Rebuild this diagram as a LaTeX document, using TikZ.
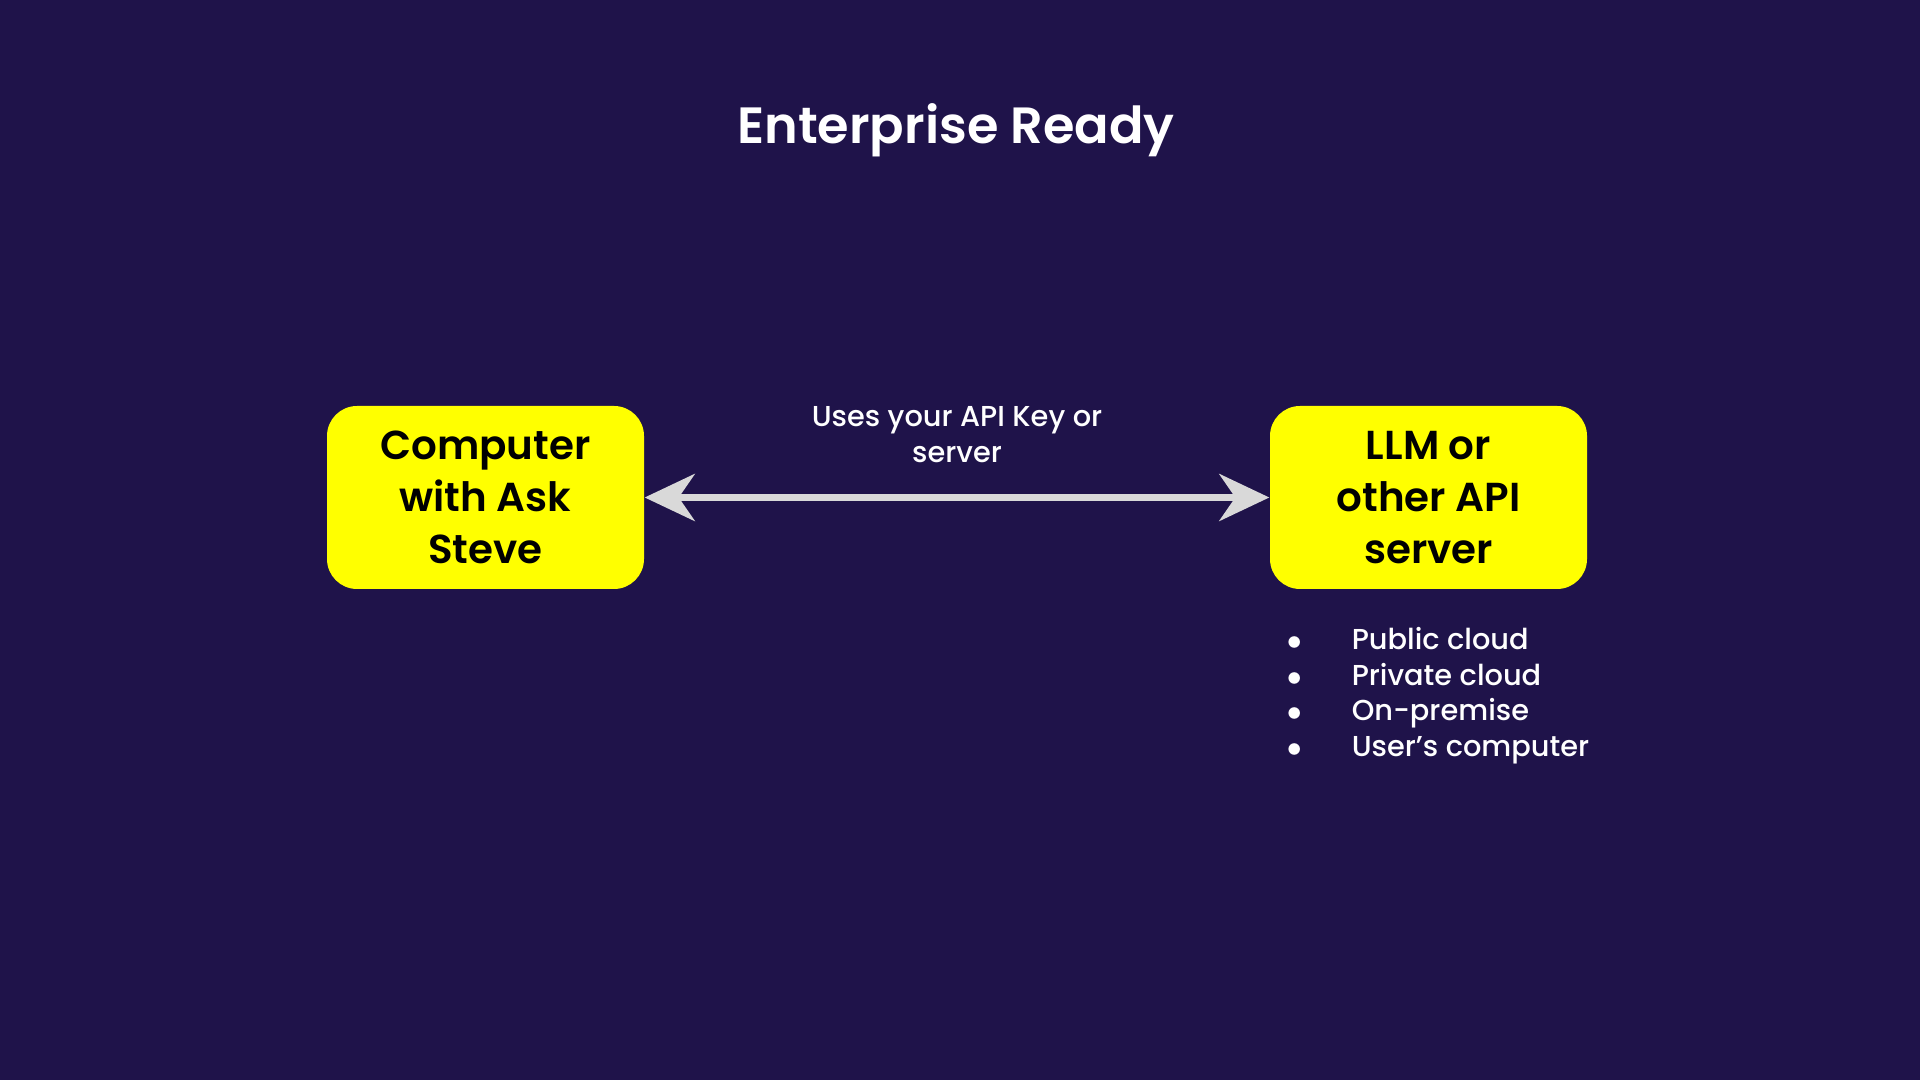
\documentclass[tikz,border=0pt]{standalone}
\usepackage{fontspec}
\setmainfont{Poppins}[BoldFont={Poppins SemiBold}]
\newfontfamily\medfont{Poppins Medium}
\usepackage{tikz}
\usetikzlibrary{arrows.meta,positioning,calc}
\definecolor{bgnavy}{HTML}{1F134A}
\definecolor{boxyellow}{HTML}{FFFF00}
\definecolor{arrgrey}{HTML}{D9D9D9}

\begin{document}
\begin{tikzpicture}[
  node distance=3.5mm,
  box/.style={fill=boxyellow, rounded corners=0.3cm, align=center, font=\fontsize{11.5}{14.8}\selectfont\bfseries, text=black, minimum width=3.17cm, minimum height=1.83cm, inner sep=0pt},
  lbl/.style={text=white, align=center, font=\fontsize{8.2}{10.1}\selectfont\medfont},
  arr/.style={{Stealth[length=5mm, width=4.7mm, inset=1.6mm]}-{Stealth[length=5mm, width=4.7mm, inset=1.6mm]}, line width=2pt, arrgrey}
]
\fill[bgnavy] (0,0) rectangle (19.2,10.8);
\node[text=white, font=\fontsize{14.5}{17}\selectfont\bfseries] (title) at (9.56,9.50) {Enterprise Ready};
\node[box] (comp) at (4.855,5.825) {Computer\\with Ask\\Steve};
\node[box] (llm) at (14.285,5.825) {LLM or\\other API\\server};
\draw[arr] (comp)--(llm);
\node[lbl, above=2.25mm of $(comp.east)!0.5!(llm.west)$] (key) {Uses your API Key or\\server};
\node[lbl, below=2.3mm of llm, xshift=0.095cm] (opts) {\begin{tabular}{@{}l@{\hspace{0.5cm}}l@{}}
$\bullet$ & Public cloud\\
$\bullet$ & Private cloud\\
$\bullet$ & On-premise\\
$\bullet$ & User’s computer
\end{tabular}};
\end{tikzpicture}
\end{document}
